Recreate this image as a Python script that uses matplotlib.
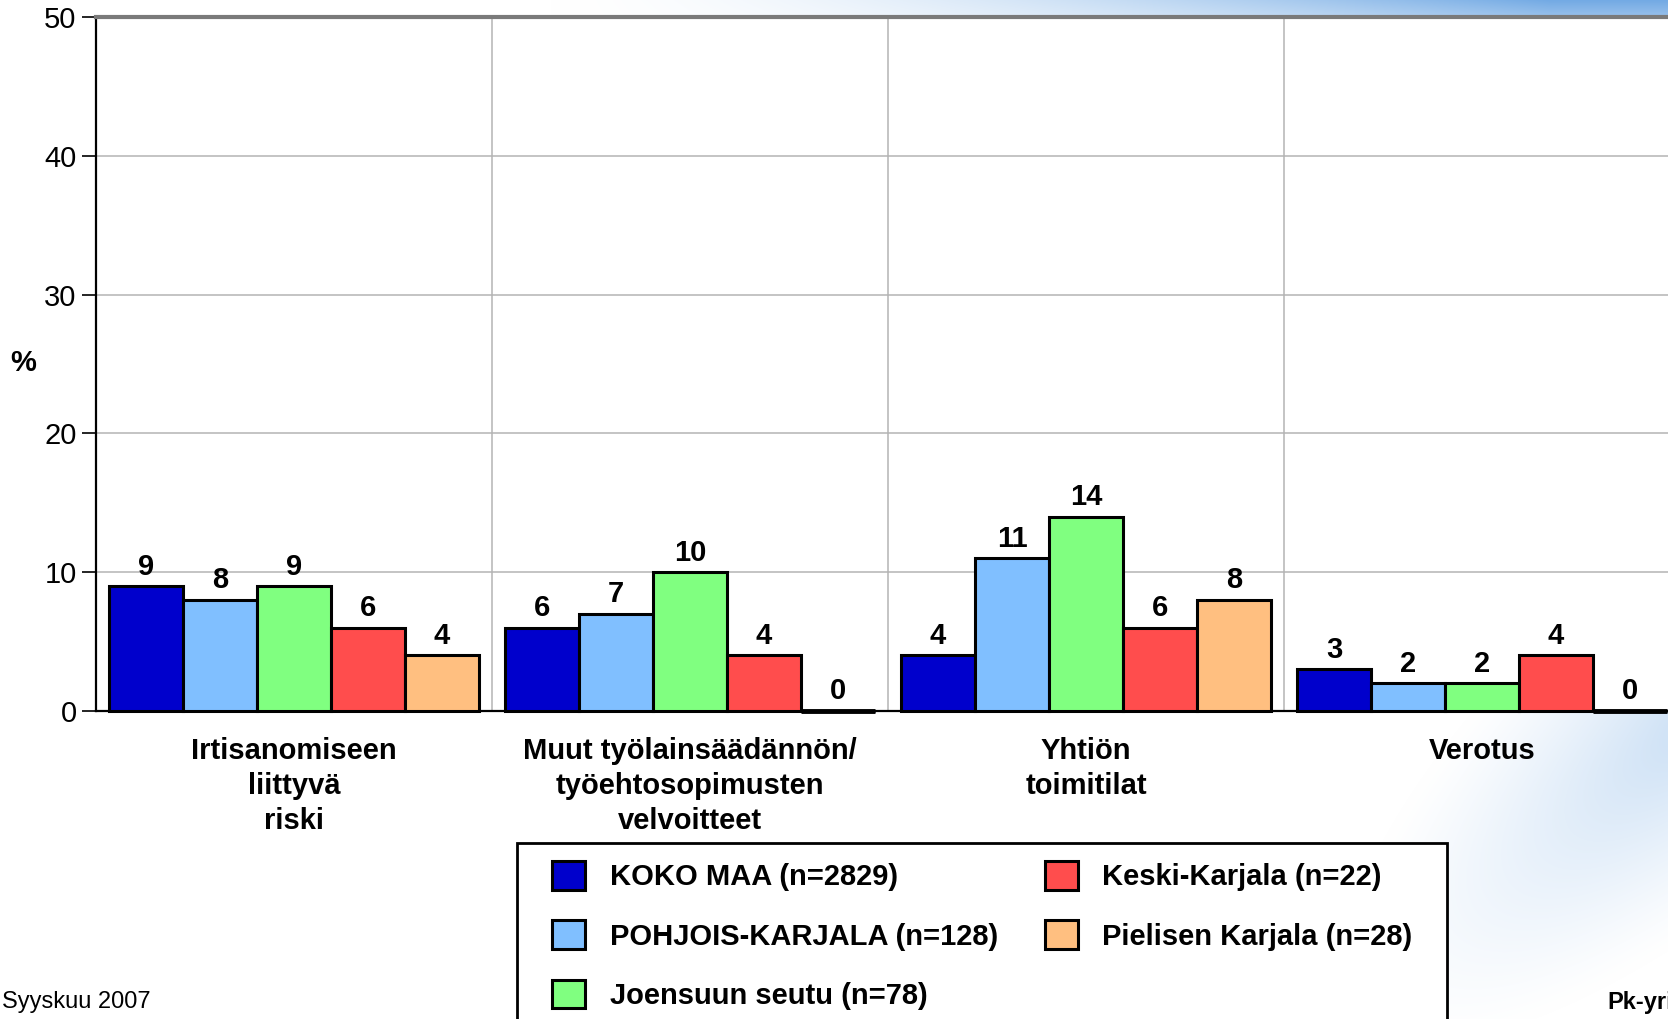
import numpy as np
import matplotlib.pyplot as plt
from matplotlib.patches import Rectangle

plt.rcParams['font.family'] = ['Liberation Sans', 'DejaVu Sans']

categories = ["Irtisanomiseen\nliittyvä\nriski",
              "Muut työlainsäädännön/\ntyöehtosopimusten\nvelvoitteet",
              "Yhtiön\ntoimitilat",
              "Verotus"]
series_names = ["KOKO MAA (n=2829)", "POHJOIS-KARJALA (n=128)", "Joensuun seutu (n=78)",
                "Keski-Karjala (n=22)", "Pielisen Karjala (n=28)"]
koko_maa = [9, 6, 4, 3]
pohjois_karjala = [8, 7, 11, 2]
joensuun_seutu = [9, 10, 14, 2]
keski_karjala = [6, 4, 6, 4]
pielisen_karjala = [4, 0, 8, 0]
series_values = [koko_maa, pohjois_karjala, joensuun_seutu, keski_karjala, pielisen_karjala]
colors = ["#0000CC", "#80BFFF", "#80FF80", "#FF4D4D", "#FFBF80"]

W, H = 1668, 1019
fig = plt.figure(figsize=(W / 100, H / 100), dpi=100)

# slide background: blue swoosh at top right and a faint one at bottom right
bg = fig.add_axes([0, 0, 1, 1], zorder=-5)
yy, xx = np.mgrid[0:H, 0:W]
t_top = np.clip((xx - 550) / 1000.0, 0, 1) ** 1.6 * np.clip(1 - yy / 60.0, 0, 1)
u = (xx - 1720) * -0.75 + (yy - 700) * 0.66
v = (xx - 1720) * 0.66 + (yy - 700) * 0.75
d = np.sqrt((u / 480.0) ** 2 + (v / 170.0) ** 2)
t_bot = np.clip(1 - d, 0, 1) ** 1.3 * 0.4
t = np.clip(np.maximum(t_top, t_bot), 0, 1)[..., None]
blue = np.array([115, 170, 228]) / 255.0
img = (1 - t) * 1.0 + t * blue
bg.imshow(img, extent=(0, W, H, 0), aspect='auto')
bg.axis('off')

ax = fig.add_axes([96 / W, 308 / H, 1584 / W, 694 / H])
ax.set_facecolor('white')

n = len(series_values)
bw = 0.187
x = np.arange(len(categories)) + 0.5
for i, (vals, c, name) in enumerate(zip(series_values, colors, series_names)):
    pos = x + (i - (n - 1) / 2) * bw
    bars = ax.bar(pos, vals, bw, color=c, edgecolor='black', linewidth=2.2,
                  label=name, zorder=3, clip_on=False)
    ax.bar_label(bars, padding=4, fontsize=21, fontweight='bold', zorder=4)
    # zero values show as a flat black bar on the axis
    for p, val in zip(pos, vals):
        if val == 0:
            ax.plot([p - bw / 2, p + bw / 2], [0, 0], color='black', linewidth=3.5,
                    solid_capstyle='butt', zorder=3, clip_on=False)

ax.set_xlim(0, 4)
ax.set_ylim(0, 50)
ax.set_yticks(range(0, 51, 10))
ax.tick_params(axis='y', labelsize=21, length=10, width=1.2, pad=4)
ax.set_xticks(x)
ax.set_xticklabels(categories, fontsize=21, fontweight='bold', linespacing=1.32)
ax.tick_params(axis='x', length=0, pad=19)
ax.set_xticks([1, 2, 3], minor=True)
ax.tick_params(axis='x', which='minor', length=0)
ax.grid(axis='y', color='#b4b4b4', linewidth=1.1, zorder=0)
ax.grid(axis='x', which='minor', color='#b4b4b4', linewidth=1.1, zorder=0)
ax.spines['right'].set_visible(False)
ax.spines['top'].set_color('#7a7a7a')
ax.spines['top'].set_linewidth(3)
ax.spines['left'].set_linewidth(1.6)
ax.spines['bottom'].set_linewidth(1.6)

fig.text(23 / W, 1 - 363 / H, "%", fontsize=21, fontweight='bold', ha='center', va='center')
fig.text(2 / W, 1 - 1002 / H, "Syyskuu 2007", fontsize=17, ha='left', va='center')
fig.text(1607 / W, 1 - 1002 / H, "Pk-yritysbarometri", fontsize=17, fontweight='bold',
         ha='left', va='center')

# legend box
frame = Rectangle((517 / W, -0.03), 930 / W, 0.03 + (1019 - 843) / H, transform=fig.transFigure,
                  facecolor='white', edgecolor='black', linewidth=2, zorder=5)
fig.patches.append(frame)
handles, labels = ax.get_legend_handles_labels()
leg = fig.legend(handles, labels, loc='upper left', bbox_to_anchor=(552 / W, 1 - 861 / H),
                 ncol=2, frameon=False, prop={'weight': 'bold', 'size': 21},
                 handlelength=1.13, handleheight=1.13, handletextpad=0.85,
                 columnspacing=1.6, labelspacing=1.0, borderpad=0, borderaxespad=0)
leg.set_zorder(6)

fig.savefig("out.png", dpi=100)
